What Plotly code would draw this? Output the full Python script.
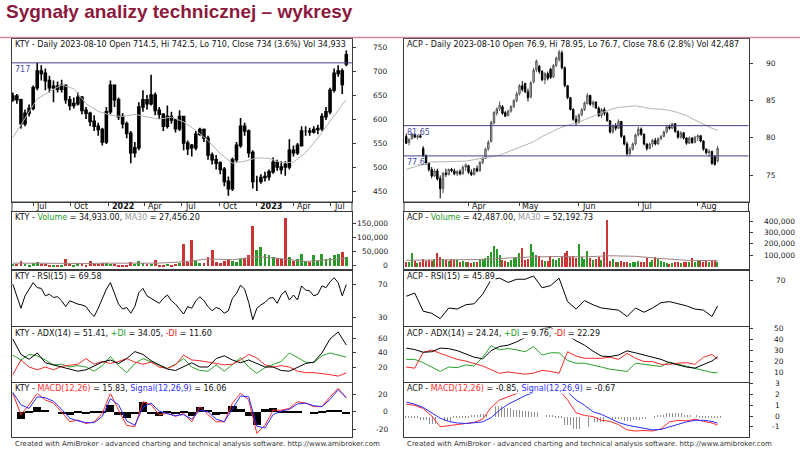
import pandas as pd
import plotly.graph_objects as go

# ======================= DATA =======================
# ---- KTY : daily chart, read every 10 calendar days ----
kty_dates = pd.date_range("2021-05-12", periods=83, freq="10D")
kty_open = [640,648,640,590,612,622,665,700,695,680,
            665,668,662,670,640,628,632,645,618,612,
            595,585,578,552,615,670,640,605,590,570,
            530,540,625,640,632,650,618,610,585,605,
            598,580,605,550,545,540,568,578,560,525,
            515,508,495,470,455,515,545,585,575,530,
            470,470,478,480,490,510,500,505,500,535,
            530,545,575,575,573,578,580,605,615,660,
            695,700,714.5]
kty_high = [655,652,642,620,630,670,717,712,705,690,
            680,678,682,672,648,645,655,648,625,615,
            608,592,582,625,680,672,645,612,595,575,
            552,635,660,650,692,655,625,612,628,615,
            600,618,605,555,548,575,582,580,565,530,
            525,512,500,480,520,552,602,592,578,535,
            482,485,490,495,520,515,512,512,558,545,
            550,585,585,582,585,588,612,625,665,705,
            712,705,742.5]
kty_low = [636,632,580,585,605,618,660,680,660,655,
           635,655,655,632,618,622,628,610,600,585,
           575,565,545,548,610,625,598,580,560,508,
           520,535,615,620,628,608,600,575,580,590,
           572,575,535,525,522,535,565,552,515,505,
           495,485,460,440,450,510,540,565,520,455,
           450,465,470,472,486,492,485,482,495,522,
           525,542,565,565,570,568,575,598,610,655,
           688,652,710]
kty_close = [648,640,590,612,622,665,700,695,680,665,
             668,662,670,640,628,632,645,618,612,595,
             585,578,552,615,670,640,605,590,570,530,
             540,625,640,632,650,618,610,585,605,598,
             580,605,550,538,540,568,578,560,525,515,
             508,495,470,455,515,545,585,575,530,470,
             470,478,480,490,510,500,495,500,535,530,
             545,575,575,573,578,580,605,615,660,695,
             700,672,734]
kty_volume = [10000,8000,20000,8000,7000,12000,15000,10000,8000,7000,
              6000,5000,6000,25000,8000,6000,12000,9000,7000,20000,
              10000,8000,12000,14000,10000,9000,6000,5000,7000,15000,
              10000,18000,12000,8000,10000,22000,7000,6000,8000,6000,
              9000,12000,80000,15000,95000,20000,14000,12000,32000,60000,
              15000,12000,18000,25000,20000,15000,25000,30000,40000,145000,
              60000,70000,45000,40000,35000,30000,25000,170000,35000,20000,
              25000,45000,20000,15000,40000,20000,45000,25000,30000,40000,
              45000,52000,34933]
kty_rsi = [70,54,41,56,64,72,66,65,56,58,
           54,55,50,43,50,48,46,45,43,36,
           31,41,52,64,72,59,46,40,42,35,
           43,60,65,56,53,49,47,53,57,50,
           46,40,34,43,41,50,55,50,43,38,
           42,40,35,38,53,59,69,64,48,27,
           41,45,48,53,54,47,57,62,51,57,
           51,68,63,62,56,58,68,66,73,78,
           72,56,69.58]
# price moving average (every 3rd bar + last)
kty_ma_idx = list(range(0, 83, 3)) + [82]
kty_ma = [561,602,642,657,671,663,632,616,608,605,610,604,600,604,594,
          576,555,528,508,512,519,518,509,510,530,560,596,630,640]
# volume MA30 (every 6th bar + last)
kty_vma_idx = list(range(0, 83, 6)) + [82]
kty_vma = [10000,9000,8000,9000,10000,9000,10000,15000,25000,22000,
           33000,26000,16000,22000,27456]
# indicators (every 2nd bar)
kty_ind_idx = list(range(0, 83, 2))
kty_adx = [60,38,31,40,26,23,19,16,14,16,21,27,30,25,32,42,38,29,23,17,
           15,20,26,20,20,32,36,30,26,30,25,20,20,15,14,19,25,27,40,60,70,51.41]
kty_pdi = [37,30,38,36,30,23,24,20,22,20,14,22,35,22,12,25,32,27,23,18,
           24,32,20,15,14,23,14,24,33,20,11,19,24,28,40,33,27,26,36,40,37,34.05]
kty_mdi = [9,30,20,16,20,16,21,22,24,32,24,28,25,28,32,27,24,27,20,18,
           23,37,30,29,27,24,23,24,30,38,33,23,20,22,20,14,12,12,11,9,7,11.6]
kty_macd = [21,-3,8,21,13.5,10,0,-11,-9,-13,-11,-1.5,21,2,-15,-16.5,11.6,8,-3,-1.5,
            -5,-1.5,-11,6,-3,-11,-11,10,21,13.5,-24,-15,2,2,4,11.6,10,6,6,17,26.6,15.83]
kty_signal = [22,8,4,17,16,12,3,-7,-10,-12,-12,-5,15,8,-10,-15,5,10,1,-2,
              -4,-3,-8,2,0,-8,-11,3,18,17,-16,-18,-3,1,3,9,10,7,6,14,25,16.06]
kty_hist = [0,-7,2,6,3,0,-2,-3,1,-1,1,2,8,-3,-6,-2,12,-2,-4,1,
            -1,2,-4,6,3,-3,-1,7,4,-4,-14,4,5,2,1,2,0,-1,1,3,3,-2]
kty_levels = [717]
kty_month_ticks = ["2021-07-01","2021-10-01","2022-01-03","2022-04-01","2022-07-01",
                   "2022-10-03","2023-01-02","2023-04-03","2023-07-03"]
kty_month_labels = ["Jul","Oct","<b>2022</b>","Apr","Jul","Oct","<b>2023</b>","Apr","Jul"]

# ---- ACP : daily chart (trading days, Polish holidays) ----
acp_holidays = ["2023-04-07","2023-04-10","2023-05-01","2023-05-03","2023-06-08","2023-08-15"]
acp_dates = pd.bdate_range("2023-03-02", "2023-08-10", freq="C", holidays=acp_holidays)
acp_open = [80.2,79.4,79.9,80.5,80.1,80.3,78.6,77.6,76.6,75.8,
            74.9,75.6,74.6,73.2,75.3,75.1,75.8,75.6,75.2,75.5,
            75.2,76.1,76.3,75.4,75.1,75.9,75.6,76.7,77.3,78.5,
            79.5,82.0,83.3,83.9,84.2,83.4,83.0,83.6,84.2,85.0,
            85.9,87.0,87.3,86.2,85.5,87.5,89.1,89.6,88.9,87.8,
            88.6,89.2,88.2,89.7,90.5,91.4,89.4,87.0,85.4,83.8,
            82.5,82.1,83.1,83.8,84.6,85.7,84.5,84.8,84.0,83.0,
            83.8,83.3,82.3,80.8,81.6,81.3,82.2,80.2,79.2,77.9,
            78.5,79.2,80.4,81.2,80.5,79.2,78.6,79.2,79.7,79.2,
            79.9,80.2,80.8,81.5,81.3,81.9,80.9,80.1,80.7,80.0,
            79.3,80.0,79.4,80.1,80.3,79.6,78.5,78.0,78.2,77.5,
            76.9]
acp_high = [80.6,80.0,80.7,80.6,80.4,80.5,78.9,77.8,76.8,76.1,
            75.9,75.9,75.0,75.4,75.9,75.9,76.0,75.9,75.7,75.8,
            76.3,76.6,76.4,75.8,76.0,76.3,76.9,77.4,78.7,79.7,
            82.3,83.6,84.1,84.9,84.4,83.6,83.8,84.4,85.2,86.2,
            87.2,87.6,87.4,86.6,87.6,89.4,90.5,89.8,89.1,88.8,
            88.9,89.4,89.9,90.9,91.8,91.7,89.6,87.1,85.5,84.0,
            83.0,83.3,84.0,84.9,86.0,85.8,85.0,84.9,84.2,84.0,
            84.1,83.5,82.4,81.8,82.0,82.5,82.3,80.4,79.5,78.8,
            79.4,80.6,81.5,81.4,80.6,79.3,79.4,79.9,80.0,80.1,
            80.4,81.0,81.7,81.8,82.0,82.0,81.0,80.9,80.8,80.1,
            80.2,80.1,80.3,80.5,80.4,79.7,78.6,78.5,78.3,77.7,
            78.95]
acp_low = [79.2,79.0,79.8,80.0,79.8,80.0,77.5,76.4,75.5,74.6,
           74.8,74.3,71.9,72.6,74.8,75.0,75.4,75.0,74.9,75.0,
           75.1,75.6,75.2,74.9,75.0,75.4,75.5,76.5,77.2,78.3,
           79.4,81.8,83.0,83.6,83.1,82.8,82.9,83.4,84.0,84.8,
           85.7,86.2,86.0,84.9,85.3,87.3,88.8,88.6,87.6,87.2,
           87.7,87.9,88.0,89.5,90.2,89.2,86.8,85.2,83.7,82.3,
           81.7,81.9,82.9,83.6,84.5,84.3,84.1,83.9,82.8,82.7,
           83.0,82.2,80.6,80.6,81.0,81.2,80.0,79.0,77.6,77.6,
           78.3,79.0,80.2,80.3,79.0,78.3,78.5,78.8,79.0,79.1,
           79.7,80.1,80.6,81.1,81.2,80.7,79.9,79.9,79.8,79.1,
           79.2,79.2,79.3,79.6,79.4,78.3,77.8,77.5,76.4,76.3,
           76.7]
acp_close = [79.3,79.8,80.5,80.1,80.3,80.1,77.6,76.6,75.8,74.9,
             75.6,74.5,73.2,75.3,75.1,75.8,75.6,75.2,75.5,75.2,
             76.1,76.4,75.4,75.1,75.9,75.6,76.7,77.3,78.5,79.4,
             82.1,83.4,83.9,84.4,83.3,82.9,83.6,84.2,85.0,85.9,
             87.0,86.5,86.2,85.4,87.4,89.1,90.3,88.9,87.8,88.6,
             88.0,88.1,89.7,90.7,91.5,89.4,87.0,85.4,83.8,82.5,
             82.0,83.1,83.8,84.7,85.7,84.5,84.8,84.0,83.0,83.8,
             83.3,82.3,80.8,81.6,81.3,82.2,80.2,79.2,77.9,78.5,
             79.2,80.4,81.2,80.5,79.2,78.6,79.2,79.7,79.2,79.9,
             80.2,80.8,81.5,81.3,81.9,80.9,80.1,80.7,80.0,79.3,
             80.0,79.4,80.1,80.3,79.6,78.5,78.0,78.2,76.6,76.46,
             78.6]
acp_volume = [45000,40000,126000,50000,35000,40000,70000,55000,60000,50000,
              75000,120000,85000,70000,60000,55000,70000,65000,60000,45000,
              50000,45000,40000,35000,45000,40000,60000,70000,80000,100000,
              130000,190000,160000,110000,60000,50000,45000,60000,80000,90000,
              120000,170000,60000,70000,200000,130000,110000,100000,60000,50000,
              55000,100000,70000,60000,80000,90000,120000,140000,90000,100000,
              80000,200000,90000,70000,140000,80000,60000,70000,90000,60000,
              130000,420000,50000,70000,40000,45000,50000,45000,40000,35000,
              40000,45000,50000,40000,45000,80000,40000,60000,90000,75000,
              50000,40000,35000,30000,35000,40000,45000,35000,40000,45000,
              40000,80000,45000,50000,60000,45000,50000,45000,55000,50000,
              42487]
acp_vma_idx = list(range(0, 111, 9)) + [110]
acp_vma = [55000,58000,62000,62000,75000,85000,88000,85000,95000,90000,
           70000,55000,52000,52193]
# indicators + price MA (every 3rd trading day + last)
acp_ind_idx = list(range(0, 111, 3)) + [110]
acp_ma = [75.8,76.1,76.4,76.8,76.8,76.85,76.9,76.9,77.1,77.3,77.5,77.7,78.15,78.6,79.05,
          79.5,80.2,80.8,81.3,81.7,82.0,82.45,82.9,83.45,83.8,84.1,84.25,84.3,84.1,83.9,
          83.85,83.7,83.4,83.0,82.4,81.8,81.3,81.0]
acp_rsi = [55,58,41,39,34,44,43,47,48,57,70.6,72,68,71,71,74,63,65,72,50,
           43,51,47,44,43,42,36,44,40,44,49,50,48,46,43,42,36,45.89]
acp_adx = [32.3,31,28.5,29,32.3,31.8,30,27,24,22.5,30,33.8,35,38,42,45.5,50,51,47,44,
           39,35,29.5,25,24.6,26,29.8,28,26,24,22,19,17,15,14,17,20.5,24.24]
acp_pdi = [22,22,19,15,11,15,14.5,17,16,24,34.5,30.7,32,30.7,29,33.8,26,28,28,21,
           18.5,18.5,17,15,13,12,11,18.5,17.5,16.5,15.5,19.5,17.5,15.5,13.5,12,10,9.76]
acp_mdi = [15,14,28.5,30.5,27.5,24.6,22,20.5,18.5,16,12.5,9.3,10.5,9.5,8.5,9.5,12,11,9.3,29,
           25,23,23,23,24,22,27.5,23,20,20,17.5,17.5,18.5,19,17.5,24,26.5,22.29]
acp_macd = [1.1,1.0,0.7,0.0,-1.0,-0.9,-0.8,-0.72,-0.6,-0.3,0.8,1.5,1.8,2.1,2.4,2.6,2.75,2.75,2.45,1.5,
            0.3,0.05,-0.05,-0.4,-0.5,-0.8,-1.3,-1.4,-1.35,-1.4,-1.2,-0.55,-0.4,-0.45,-0.3,-0.5,-0.65,-0.85]
acp_signal = [1.3,1.1,0.8,0.3,-0.2,-0.5,-0.65,-0.7,-0.65,-0.55,-0.15,0.56,1.1,1.5,1.9,2.2,2.45,2.6,2.6,2.25,
              1.5,1.0,0.4,0.15,-0.25,-0.6,-0.85,-1.0,-1.15,-1.3,-1.25,-1.0,-0.75,-0.55,-0.4,-0.4,-0.5,-0.67]
acp_hist = [-0.05,-0.1,-0.3,-0.7,-0.85,-0.4,-0.15,-0.05,0.05,0.25,0.9,1.0,0.8,0.6,0.5,0.4,0.3,0.15,-0.1,-0.8,
            -1.15,-0.95,-0.5,-0.5,-0.3,-0.25,-0.4,-0.35,-0.2,-0.1,0.1,0.35,0.3,0.15,0.1,-0.05,-0.1,-0.18]
acp_levels = [81.65, 77.6]
acp_month_ticks = ["2023-04-03","2023-05-02","2023-06-01","2023-07-03","2023-08-01"]
acp_month_labels = ["Apr","May","Jun","Jul","Aug"]

# axis tick values
kty_ticks = {"price": [450,500,550,600,650,700,750], "vol": [0,50000,100000,150000],
             "rsi": [30,70], "adx": [20,40,60], "macd": [-20,0,20]}
acp_ticks = {"price": [75,80,85,90], "vol": [100000,200000,300000,400000],
             "rsi": [70], "adx": [10,20,30,40,50], "macd": [-1,0,1,2,3]}

# pane titles
kty_titles = {
    "price": "KTY - Daily 2023-08-10 Open 714.5, Hi 742.5, Lo 710, Close 734 (3.6%) Vol 34,933",
    "vol": 'KTY - <span style="color:#1f9a1f">Volume</span> = 34,933.00, <span style="color:#999999">MA30</span> = 27,456.20',
    "rsi": "KTY - RSI(15) = 69.58",
    "adx": 'KTY - ADX(14) = 51.41, <span style="color:#1f9a1f">+DI</span> = 34.05, <span style="color:#e52020">-DI</span> = 11.60',
    "macd": 'KTY - <span style="color:#ff3030">MACD(12,26)</span> = 15.83, <span style="color:#3030ff">Signal(12,26,9)</span> = 16.06',
}
acp_titles = {
    "price": "ACP - Daily 2023-08-10 Open 76.9, Hi 78.95, Lo 76.7, Close 78.6 (2.8%) Vol 42,487",
    "vol": 'ACP - <span style="color:#1f9a1f">Volume</span> = 42,487.00, <span style="color:#999999">MA30</span> = 52,192.73',
    "rsi": "ACP - RSI(15) = 45.89",
    "adx": 'ACP - ADX(14) = 24.24, <span style="color:#1f9a1f">+DI</span> = 9.76, <span style="color:#e52020">-DI</span> = 22.29',
    "macd": 'ACP - <span style="color:#ff3030">MACD(12,26)</span> = -0.85, <span style="color:#3030ff">Signal(12,26,9)</span> = -0.67',
}
title_text = "Sygnały analizy technicznej – wykresy"
footer_text = "Created with AmiBroker - advanced charting and technical analysis software. http://www.amibroker.com"

# ======================= LAYOUT =======================
W, H = 800, 454
FONT = "DejaVu Sans"
BORDER = "#3a3a3a"
GREEN = "#2a9a2a"
RED = "#cc3333"

PANES = [("price", 39, 202), ("vol", 211.5, 269), ("rsi", 270.5, 326),
         ("adx", 327, 381.5), ("macd", 382.5, 437)]
LEFT = (12, 352)
RIGHT = (404, 748.5)

kty_yr = {"price": [427.1, 766.7], "vol": [-10700, 192900], "rsi": [19.5, 86.7],
          "adx": [-0.7, 77.1], "macd": [-28.1, 33.1]}
acp_yr = {"price": [71.43, 93.25], "vol": [-22300, 486600], "rsi": [27.1, 79.2],
          "adx": [1.8, 51.6], "macd": [-1.96, 3.13]}
kty_lab_x = {"price": 390, "vol": 390, "rsi": 390, "adx": 390, "macd": 390}
acp_lab_x = {"price": 778, "vol": 797, "rsi": 788, "adx": 786, "macd": 782}

kty_xrange = ["2021-05-10", "2023-08-24"]
acp_xrange = ["2023-03-01 05:00", "2023-08-25 22:00"]
acp_breaks = [dict(bounds=["sat", "mon"]), dict(values=acp_holidays)]


def yd(top, bot):
    return [1 - bot / H, 1 - top / H]


def names(n):
    return ("x" if n == 1 else f"x{n}", "y" if n == 1 else f"y{n}")


def lkey(a, n):
    return f"{a}axis" if n == 1 else f"{a}axis{n}"


fig = go.Figure()
layout = {}
annotations = []
shapes = []

for base, (l, r), yr, ticks, xr, rb, mticks, mlabels, titles, labx in [
        (1, LEFT, kty_yr, kty_ticks, kty_xrange, None, kty_month_ticks, kty_month_labels, kty_titles, kty_lab_x),
        (6, RIGHT, acp_yr, acp_ticks, acp_xrange, acp_breaks, acp_month_ticks, acp_month_labels, acp_titles, acp_lab_x)]:
    for p, (name, top, bot) in enumerate(PANES):
        n = base + p
        xn, yn = names(n)
        xa = dict(domain=[l / W, r / W], anchor=yn, range=xr, showgrid=False, zeroline=False,
                  showline=True, mirror=True, linecolor=BORDER, linewidth=1,
                  showticklabels=False, ticks="", fixedrange=True)
        if rb:
            xa["rangebreaks"] = rb
        if p == 0:
            xa.update(rangeslider=dict(visible=False), ticks="outside", ticklen=3,
                      tickcolor=BORDER, tickvals=mticks)
        else:
            xa["matches"] = names(base)[0]
        layout[lkey("x", n)] = xa
        layout[lkey("y", n)] = dict(domain=yd(top, bot), anchor=xn, range=yr[name], side="right",
                                    showgrid=False, zeroline=False, showline=True, mirror=True,
                                    linecolor=BORDER, linewidth=1, ticks="outside", ticklen=3,
                                    tickcolor=BORDER, tickvals=ticks[name], showticklabels=False,
                                    fixedrange=True)
        # right side tick labels
        for v in ticks[name]:
            txt = f"{v:,}" if name == "vol" else f"{v:g}"
            annotations.append(dict(xref="paper", yref=yn, x=labx[name] / W, y=v, text=txt,
                                    xanchor="right", yanchor="middle", showarrow=False,
                                    font=dict(family=FONT, size=7.5, color="#222222")))
        # pane title
        annotations.append(dict(xref="paper", yref="paper", x=(l + 2) / W, y=1 - (top + 0.5) / H,
                                text=titles[name], xanchor="left", yanchor="top", showarrow=False,
                                font=dict(family=FONT, size=8, color="#111111"),
                                bgcolor=None if p == 0 else "white", borderpad=0))
    # date strip
    shapes.append(dict(type="rect", xref="paper", yref="paper", x0=l / W, x1=r / W,
                       y0=1 - 211.5 / H, y1=1 - 202 / H, line=dict(color=BORDER, width=1)))
    for d, lab in zip(mticks, mlabels):
        annotations.append(dict(xref=names(base)[0], yref="paper", x=d, y=1 - 206.8 / H, text=lab,
                                xanchor="left", yanchor="middle", xshift=1, showarrow=False,
                                font=dict(family=FONT, size=8, color="#111111")))
    # footer
    annotations.append(dict(xref="paper", yref="paper", x=(l + 1) / W, y=1 - 444 / H,
                            text=footer_text, xanchor="left", yanchor="middle", showarrow=False,
                            font=dict(family=FONT, size=7, color="#333333")))


def sub(seq, idx):
    return [seq[i] for i in idx]


def add_side(base, dates, o, h, lo, c, inc_fill, inc_line, cwidth, ma_idx, ma, vol, vma_idx, vma,
             vol_width, ind_idx_rsi, rsi, ind_idx, adx, pdi, mdi, macd, sig, hist, hist_kind, levels):
    x1, y1 = names(base)
    fig.add_trace(go.Candlestick(x=dates, open=o, high=h, low=lo, close=c, xaxis=x1, yaxis=y1,
                                 increasing=dict(line=dict(color=inc_line, width=cwidth), fillcolor=inc_fill),
                                 decreasing=dict(line=dict(color="black", width=cwidth), fillcolor="black"),
                                 whiskerwidth=0, showlegend=False, hoverinfo="skip"))
    fig.add_trace(go.Scatter(x=sub(dates, ma_idx), y=ma, mode="lines", xaxis=x1, yaxis=y1,
                             line=dict(color="#b4b4b4", width=1), showlegend=False, hoverinfo="skip"))
    for lv in levels:
        shapes.append(dict(type="line", xref=f"{x1} domain", yref=y1, x0=0, x1=1, y0=lv, y1=lv,
                           line=dict(color="#40408c", width=1)))
        annotations.append(dict(xref=f"{x1} domain", yref=y1, x=0, y=lv, text=f"{lv:g}",
                                xanchor="left", yanchor="top", xshift=1, yshift=-0.5, showarrow=False,
                                font=dict(family=FONT, size=8, color="#4a4aa8")))
    # volume
    x2, y2 = names(base + 1)
    vcol = [GREEN if cc >= oo else RED for oo, cc in zip(o, c)]
    fig.add_trace(go.Bar(x=dates, y=vol, marker=dict(color=vcol, line=dict(width=0)), width=vol_width,
                         xaxis=x2, yaxis=y2, showlegend=False, hoverinfo="skip"))
    fig.add_trace(go.Scatter(x=sub(dates, vma_idx), y=vma, mode="lines", xaxis=x2, yaxis=y2,
                             line=dict(color="#a08080", width=1), showlegend=False, hoverinfo="skip"))
    # RSI
    x3, y3 = names(base + 2)
    fig.add_trace(go.Scatter(x=sub(dates, ind_idx_rsi), y=rsi, mode="lines", xaxis=x3, yaxis=y3,
                             line=dict(color="black", width=1), showlegend=False, hoverinfo="skip"))
    # ADX
    x4, y4 = names(base + 3)
    idates = sub(dates, ind_idx)
    for ser, col in [(pdi, "#2aa02a"), (mdi, "#ee2a2a"), (adx, "black")]:
        fig.add_trace(go.Scatter(x=idates, y=ser, mode="lines", xaxis=x4, yaxis=y4,
                                 line=dict(color=col, width=1), showlegend=False, hoverinfo="skip"))
    # MACD
    x5, y5 = names(base + 4)
    if hist_kind == "solid":
        fig.add_trace(go.Bar(x=idates, y=hist, width=20 * 86400000, xaxis=x5, yaxis=y5,
                             marker=dict(color="black", line=dict(width=0)), showlegend=False, hoverinfo="skip"))
    else:
        fig.add_trace(go.Bar(x=idates, y=hist, width=3 * 86400000, xaxis=x5, yaxis=y5,
                             marker=dict(color="white", line=dict(width=0),
                                         pattern=dict(shape="|", fgcolor="#222222", bgcolor="white",
                                                      size=3, solidity=0.35)),
                             showlegend=False, hoverinfo="skip"))
    for ser, col in [(macd, "#ff2a2a"), (sig, "#2a2aff")]:
        fig.add_trace(go.Scatter(x=idates, y=ser, mode="lines", xaxis=x5, yaxis=y5,
                                 line=dict(color=col, width=1), showlegend=False, hoverinfo="skip"))


add_side(1, list(kty_dates), kty_open, kty_high, kty_low, kty_close, "black", "black", 1.6,
         kty_ma_idx, kty_ma, kty_volume, kty_vma_idx, kty_vma, 7 * 86400000,
         list(range(83)), kty_rsi, kty_ind_idx, kty_adx, kty_pdi, kty_mdi,
         kty_macd, kty_signal, kty_hist, "solid", kty_levels)
add_side(6, list(acp_dates), acp_open, acp_high, acp_low, acp_close, "#cfcfcf", "#555555", 1,
         acp_ind_idx, acp_ma, acp_volume, acp_vma_idx, acp_vma, 0.45 * 86400000,
         acp_ind_idx, acp_rsi, acp_ind_idx, acp_adx, acp_pdi, acp_mdi,
         acp_macd, acp_signal, acp_hist, "hatch", acp_levels)

# header
annotations.append(dict(xref="paper", yref="paper", x=4 / W, y=1, text=f"<b>{title_text}</b>",
                        xanchor="left", yanchor="top", yshift=1, showarrow=False,
                        font=dict(family="Liberation Sans", size=19, color="#8b1a3d")))
shapes.append(dict(type="line", xref="paper", yref="paper", x0=0, x1=1, y0=1 - 37.5 / H, y1=1 - 37.5 / H,
                   line=dict(color="#c68a9c", width=1.5)))

fig.update_layout(width=W, height=H, margin=dict(l=0, r=0, t=0, b=0), paper_bgcolor="white",
                  plot_bgcolor="white", showlegend=False, bargap=0, annotations=annotations,
                  shapes=shapes, **layout)
fig.write_html("out.html")
